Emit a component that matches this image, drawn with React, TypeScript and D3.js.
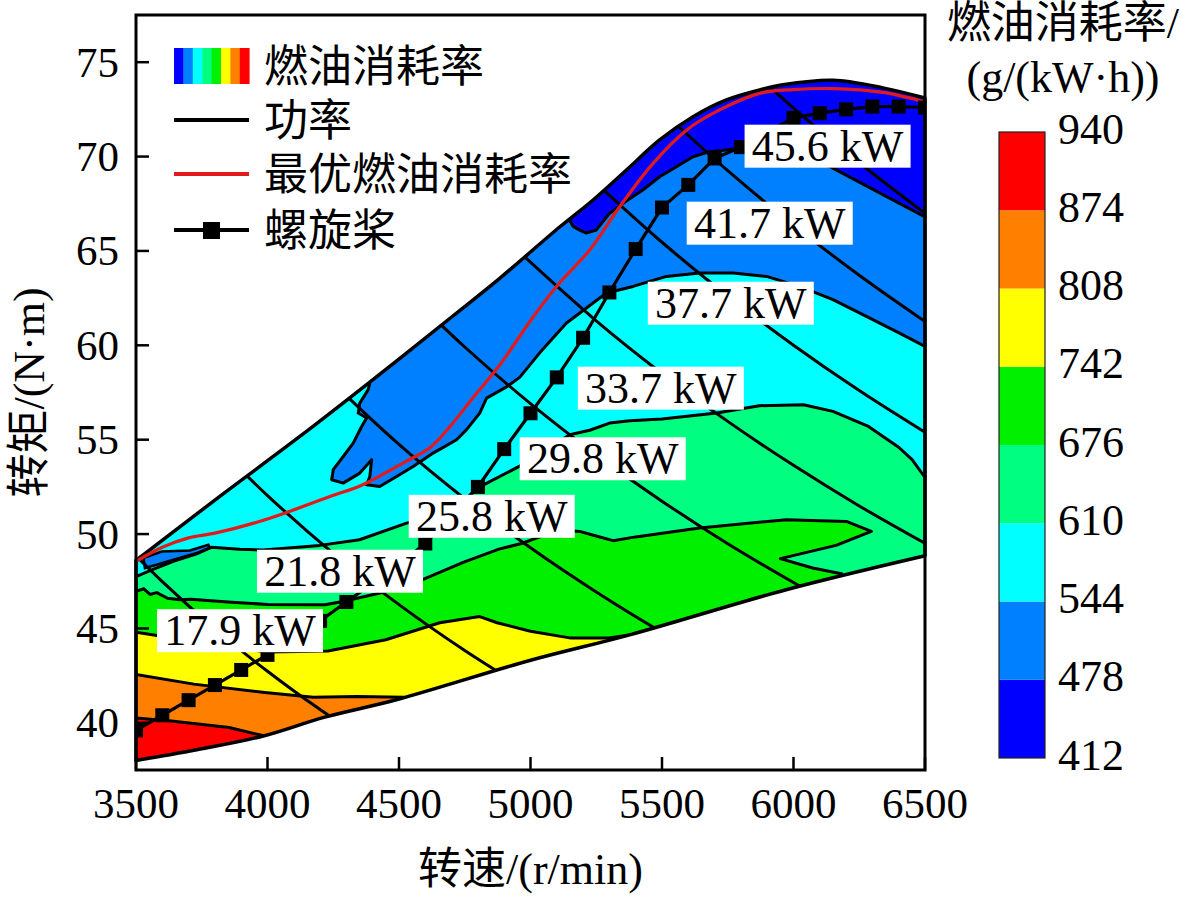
import React from "react";
import * as d3 from "d3";

type P = [number, number];

// ---------- data ----------
const xTicks = [3500, 4000, 4500, 5000, 5500, 6000, 6500];
const yTicks = [40, 45, 50, 55, 60, 65, 70, 75];
const levelTicks = [412, 478, 544, 610, 676, 742, 808, 874, 940];
// colours from lowest band (412-478) to highest (874-940)
const bandColors = ["#0000ff", "#0080ff", "#00ffff", "#00ff80", "#00f000", "#ffff00", "#ff8000", "#ff0000"];

// engine operating envelope (rpm, N·m)
const upperEnvelope: P[] = [
  [3500, 48.6], [3800, 51.8], [4123, 55.17], [4389, 58.05], [4700, 61.5], [4883, 63.55],
  [5112, 66.28], [5238, 67.7], [5365, 69.29], [5491, 70.88], [5618, 72.11], [5745, 73.0],
  [5871, 73.53], [5960, 73.8], [6150, 74.04], [6340, 73.64], [6500, 73.1],
];
const lowerEnvelope: P[] = [
  [3500, 38.0], [3731, 38.57], [3984, 39.3], [4218, 40.3], [4490, 41.22], [4997, 43.3],
  [5377, 44.66], [5972, 47.05], [6500, 48.85],
];

// contour boundaries (fuel consumption levels)
const b874: P[] = [[3500, 40.25], [3635, 40.1], [3854, 39.75], [3990, 39.3]];
const b808: P[] = [[3500, 42.56], [3720, 42.05], [3990, 41.6], [4174, 41.35], [4339, 41.4], [4520, 41.35]];
const b742: P[] = [
  [3500, 44.8], [3604, 44.57], [3720, 44.2], [3857, 44.0], [4000, 43.75], [4230, 43.8], [4450, 44.4],
  [4655, 45.3], [4807, 45.63], [4873, 45.3], [5000, 44.85], [5149, 44.5], [5300, 44.5], [5380, 44.67],
];
const b676: P[] = [
  [3500, 46.97], [3530, 47.1], [3553, 46.8], [3579, 46.9], [3620, 46.6], [3667, 46.52], [3708, 46.55],
  [3850, 46.4], [4000, 46.27], [4218, 46.25], [4291, 46.44], [4436, 46.9], [4592, 47.6], [4744, 48.5],
  [4880, 49.2], [4966, 49.5], [5035, 49.85], [5124, 50.2], [5187, 50.14], [5250, 49.9], [5314, 49.65],
  [5400, 49.85], [5643, 50.32], [5973, 50.76], [6201, 50.67], [6296, 50.14], [6162, 49.4], [5950, 48.7],
  [6073, 48.2], [6187, 47.88],
];
const b610: P[] = [
  [3500, 47.75], [3560, 48.1], [3642, 48.55], [3731, 48.95], [3785, 49.3], [3895, 49.2], [3984, 49.15],
  [4199, 49.4], [4350, 49.7], [4529, 50.58], [4650, 51.0], [4740, 51.7], [4807, 52.5], [4959, 53.6],
  [5149, 55.26], [5225, 55.5], [5301, 55.88], [5377, 56.0], [5500, 56.1], [5708, 56.41], [5870, 56.8],
  [6038, 56.85], [6150, 56.5], [6285, 55.7], [6400, 54.6], [6451, 53.94], [6500, 53.0],
];
const b544: P[] = [
  [4389, 58.0], [4383, 57.65], [4351, 56.94], [4345, 56.41], [4377, 56.15], [4358, 55.7], [4326, 54.82],
  [4288, 54.11], [4250, 53.41], [4244, 52.88], [4288, 52.7], [4351, 53.23], [4396, 53.94], [4389, 53.05],
  [4377, 52.61], [4427, 52.52], [4491, 53.05], [4554, 53.58], [4630, 54.29], [4719, 55.0], [4757, 55.53],
  [4807, 56.41], [4833, 57.2], [4909, 57.8], [4959, 58.3], [5035, 59.6], [5137, 61.18], [5238, 62.24],
  [5289, 62.77], [5390, 63.12], [5517, 63.65], [5643, 63.83], [5770, 63.83], [5897, 63.65], [6023, 63.12],
  [6150, 62.42], [6277, 61.53], [6403, 60.65], [6500, 59.94],
];
const b478: P[] = [
  [5150, 66.6], [5162, 66.3], [5187, 66.1], [5212, 65.95], [5250, 66.1], [5301, 67.0], [5360, 67.6],
  [5427, 68.23], [5491, 68.93], [5555, 69.46], [5618, 69.99], [5681, 70.26], [5745, 70.35], [5795, 70.44],
  [5950, 70.1], [6137, 69.48], [6500, 66.8],
];
const blueWedge: P[] = [
  [3528, 48.73], [3598, 49.08], [3705, 49.13], [3775, 49.43], [3781, 49.26], [3731, 48.99],
  [3642, 48.64], [3579, 48.37], [3534, 48.2],
];

// constant power lines
const powerKw = [17.9, 21.8, 25.8, 29.8, 33.7, 37.7, 41.7, 45.6];
const powerCurves: P[][] = [
  [[3450, 49.55], [3600, 47.48], [3800, 44.98], [4000, 42.73], [4200, 40.7], [4400, 38.85]],
  [[3800, 54.78], [4000, 52.04], [4250, 48.98], [4500, 46.26], [4750, 43.83], [5000, 41.64]],
  [[4200, 58.66], [4500, 54.75], [4750, 51.87], [5000, 49.27], [5250, 46.93], [5500, 44.79], [5600, 44.0]],
  [[4500, 63.24], [4750, 59.91], [5000, 56.91], [5250, 54.2], [5500, 51.74], [5750, 49.49], [6000, 47.43], [6100, 46.65]],
  [[4900, 65.68], [5250, 61.3], [5500, 58.51], [5750, 55.97], [6000, 53.64], [6250, 51.49], [6500, 49.51]],
  [[5200, 69.23], [5500, 65.46], [5750, 62.61], [6000, 60.0], [6250, 57.6], [6500, 55.39]],
  [[5500, 72.4], [5750, 69.25], [6000, 66.37], [6250, 63.71], [6500, 61.26]],
  [[5850, 74.44], [6000, 72.57], [6250, 69.67], [6500, 66.99]],
];
const powerLabelRpm = [3580, 3960, 4537, 4959, 5180, 5446, 5594, 5814];
const powerLabelTorque = [44.88, 48.03, 50.94, 53.99, 57.73, 62.23, 66.47, 70.55];

// optimal fuel consumption line
const optimalLine: P[] = [
  [3500, 48.55], [3600, 49.3], [3700, 49.8], [3800, 50.05], [4000, 50.8], [4240, 52.0], [4360, 52.6],
  [4520, 53.8], [4620, 54.6], [4700, 55.8], [4780, 57.2], [4880, 58.9], [5010, 61.5], [5110, 63.3],
  [5225, 65.05], [5339, 67.34], [5466, 69.64], [5593, 71.4], [5719, 72.47], [5871, 73.35], [6000, 73.55],
  [6150, 73.6], [6340, 73.4], [6500, 72.9],
];

// propeller characteristic
const propellerRpm = [
  3500, 3600, 3700, 3800, 3900, 4000, 4100, 4200, 4300, 4400, 4500, 4600, 4700, 4800, 4900, 5000,
  5100, 5200, 5300, 5400, 5500, 5600, 5700, 5800, 5900, 6000, 6100, 6200, 6300, 6400, 6500,
];
const propellerTorque = [
  39.6, 40.4, 41.2, 42.0, 42.8, 43.6, 44.5, 45.4, 46.4, 47.4, 48.4, 49.5, 51.0, 52.5, 54.5, 56.4,
  58.3, 60.4, 62.8, 65.1, 67.3, 68.5, 69.9, 70.5, 71.3, 72.05, 72.3, 72.5, 72.65, 72.65, 72.6,
];

// ---------- layout ----------
const W = 1181, H = 901;
const L = 136, R = 925, T = 15, B = 770;
const FONT = "'Liberation Serif', 'Times New Roman', 'Noto Sans CJK SC', serif";

const x = d3.scaleLinear().domain([3500, 6500]).range([L, R]);
const y = d3.scaleLinear().domain([37.5, 77.5]).range([B, T]);
const cy = d3.scaleLinear().domain([412, 940]).range([758, 132]);

const lin = d3.line<P>().x(d => x(d[0])).y(d => y(d[1]));
const smooth = d3.line<P>().x(d => x(d[0])).y(d => y(d[1])).curve(d3.curveCatmullRom.alpha(0.5));

const TOPV = 90, FAR_R = 7200, FAR_L = 3300, LOWV = 30;

function aboveToLower(b: P[]): P[] {
  const last = b[b.length - 1];
  return [[FAR_L, b[0][1]], ...b, [last[0] + 20, LOWV], [FAR_R, LOWV], [FAR_R, TOPV], [FAR_L, TOPV]];
}
function aboveToRight(b: P[]): P[] {
  const last = b[b.length - 1];
  return [[FAR_L, b[0][1]], ...b, [FAR_R, last[1]], [FAR_R, TOPV], [FAR_L, TOPV]];
}
function fromTopToRight(b: P[]): P[] {
  const last = b[b.length - 1];
  return [[b[0][0] - 10, TOPV], ...b, [FAR_R, last[1]], [FAR_R, TOPV]];
}

export default function App() {
  const up = smooth(upperEnvelope) as string;
  const lowRev = smooth([...lowerEnvelope].reverse()) as string;
  const envPath = up + "L" + lowRev.slice(1) + "Z";

  const fills: { d: string; c: string }[] = [
    { d: lin(aboveToLower(b874)) + "Z", c: bandColors[6] },
    { d: lin(aboveToLower(b808)) + "Z", c: bandColors[5] },
    { d: lin(aboveToLower(b742)) + "Z", c: bandColors[4] },
    { d: lin(aboveToLower(b676)) + "Z", c: bandColors[3] },
    { d: lin(aboveToRight(b610)) + "Z", c: bandColors[2] },
    { d: lin(fromTopToRight(b544)) + "Z", c: bandColors[1] },
    { d: lin(blueWedge) + "Z", c: bandColors[1] },
    { d: lin(fromTopToRight(b478)) + "Z", c: bandColors[0] },
  ];
  const boundaries = [b874, b808, b742, b676, b610, b544, b478];

  const prop: P[] = propellerRpm.map((r, i) => [r, propellerTorque[i]]);
  const sq = 14;

  const barX = 999, barW = 46;

  return (
    <svg width={W} height={H} viewBox={`0 0 ${W} ${H}`}
      style={{ position: "absolute", left: 0, top: 0, background: "#fff" }}
      fontFamily={FONT}>
      <defs>
        <clipPath id="env"><path d={envPath} /></clipPath>
        <clipPath id="plot"><rect x={L} y={T} width={R - L} height={B - T} /></clipPath>
      </defs>

      {/* contour fills */}
      <g clipPath="url(#env)">
        <path d={envPath} fill={bandColors[7]} />
        {fills.map((f, i) => <path key={i} d={f.d} fill={f.c} stroke="none" />)}
        {boundaries.map((b, i) => (
          <path key={"b" + i} d={lin(b) as string} fill="none" stroke="#000" strokeWidth={3} strokeLinejoin="round" />
        ))}
        <path d={lin(blueWedge) + "Z"} fill="none" stroke="#000" strokeWidth={2.6} />
        {powerCurves.map((c, i) => (
          <path key={"p" + i} d={smooth(c) as string} fill="none" stroke="#000" strokeWidth={3} />
        ))}
      </g>
      <path d={envPath} fill="none" stroke="#000" strokeWidth={3.5} strokeLinejoin="round" />

      {/* optimal line */}
      <path d={smooth(optimalLine) as string} fill="none" stroke="#e31a1c" strokeWidth={3.2} />

      {/* propeller */}
      <g clipPath="url(#plot)">
        <path d={lin(prop) as string} fill="none" stroke="#000" strokeWidth={3.2} />
        {prop.map((p, i) => (
          <rect key={i} x={x(p[0]) - sq / 2} y={y(p[1]) - sq / 2} width={sq} height={sq} fill="#000" />
        ))}
      </g>

      {/* power labels */}
      {powerKw.map((kw, i) => {
        const bx = x(powerLabelRpm[i]);
        const by = y(powerLabelTorque[i]);
        return (
          <g key={"l" + i}>
            <rect x={bx} y={by - 21.5} width={166} height={43} fill="#fff" />
            <text x={bx + 83} y={by} fontSize={44} textAnchor="middle" dominantBaseline="central">{`${kw} kW`}</text>
          </g>
        );
      })}

      {/* frame and ticks */}
      <rect x={L} y={T} width={R - L} height={B - T} fill="none" stroke="#000" strokeWidth={3} />
      {yTicks.map(v => (
        <g key={"yt" + v}>
          <line x1={L} x2={L + 13} y1={y(v)} y2={y(v)} stroke="#000" strokeWidth={2.5} />
          <text x={L - 17} y={y(v)} fontSize={43} textAnchor="end" dominantBaseline="central">{v}</text>
        </g>
      ))}
      {xTicks.map(v => (
        <g key={"xt" + v}>
          <line x1={x(v)} x2={x(v)} y1={B} y2={B - 13} stroke="#000" strokeWidth={2.5} />
          <text x={x(v)} y={B + 48} fontSize={43} textAnchor="middle">{v}</text>
        </g>
      ))}
      <text x={(L + R) / 2} y={884} fontSize={44} textAnchor="middle">转速/(r/min)</text>
      <text transform={`translate(44, ${(T + B) / 2}) rotate(-90)`} fontSize={44} textAnchor="middle">转矩/(N·m)</text>

      {/* legend */}
      <g>
        {bandColors.map((c, i) => (
          <rect key={"ls" + i} x={174 + i * 9.4} y={48} width={9.8} height={36} fill={c} />
        ))}
        <text x={264} y={67} fontSize={44} dominantBaseline="central">燃油消耗率</text>
        <line x1={174} x2={249} y1={120} y2={120} stroke="#000" strokeWidth={4} />
        <text x={264} y={121} fontSize={44} dominantBaseline="central">功率</text>
        <line x1={174} x2={249} y1={174} y2={174} stroke="#e31a1c" strokeWidth={4} />
        <text x={264} y={175} fontSize={44} dominantBaseline="central">最优燃油消耗率</text>
        <line x1={174} x2={249} y1={230} y2={230} stroke="#000" strokeWidth={4} />
        <rect x={203} y={222} width={17} height={17} fill="#000" />
        <text x={264} y={231} fontSize={44} dominantBaseline="central">螺旋桨</text>
      </g>

      {/* colour bar */}
      <g>
        {bandColors.map((c, i) => (
          <rect key={"cb" + i} x={barX} y={cy(levelTicks[i + 1])} width={barW}
            height={cy(levelTicks[i]) - cy(levelTicks[i + 1])} fill={c} />
        ))}
        <rect x={barX} y={cy(940)} width={barW} height={cy(412) - cy(940)} fill="none" stroke="#222" strokeWidth={1.2} />
        {levelTicks.map(v => (
          <text key={"cl" + v} x={1058} y={cy(v) - 3} fontSize={44} dominantBaseline="central">{v}</text>
        ))}
        <text x={1063} y={38} fontSize={44} textAnchor="middle">燃油消耗率/</text>
        <text x={1063} y={92} fontSize={44} textAnchor="middle">(g/(kW·h))</text>
      </g>
    </svg>
  );
}
